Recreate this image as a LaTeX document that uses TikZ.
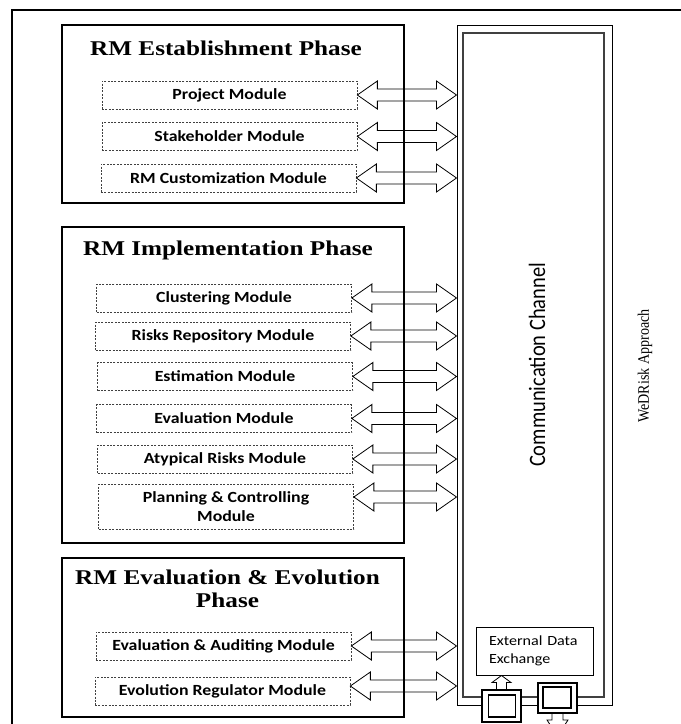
\documentclass[tikz,border=0pt]{standalone}
\usepackage{fontspec}
\setmainfont{Liberation Serif}
\newfontfamily\ttlfont[FakeStretch=1.2]{Liberation Serif}
\newfontfamily\modfont[FakeStretch=1.15]{Carlito}
\newfontfamily\calfont[FakeStretch=0.87]{Carlito}
\newfontfamily\wdfont[FakeStretch=0.88]{Liberation Serif}
\usetikzlibrary{calc}
\newcommand{\dblarr}[2]{%
  \draw[arr] let \p1=#1, \p2=#2 in
    (\x1,\y1) -- (\x1+20pt,\y1+14pt) -- (\x1+20pt,\y1+6pt) -- (\x2-20pt,\y1+6pt)
    -- (\x2-20pt,\y1+14pt) -- (\x2,\y1) -- (\x2-20pt,\y1-14pt) -- (\x2-20pt,\y1-6pt)
    -- (\x1+20pt,\y1-6pt) -- (\x1+20pt,\y1-14pt) -- cycle;}
\begin{document}
\begin{tikzpicture}[x=1pt,y=-1pt,
  phase/.style={draw, line width=2.8pt, inner sep=0pt},
  modbox/.style={draw=black!75, line width=0.7pt, dash pattern=on 2pt off 1.4pt,
    minimum width=255pt, minimum height=28pt, inner sep=0pt, align=center,
    font=\modfont\bfseries\fontsize{15.5}{19}\selectfont},
  ttl/.style={font=\ttlfont\bfseries\fontsize{21}{23}\selectfont, align=center, inner sep=0pt},
  arr/.style={draw, line width=0.8pt, line join=miter},
  smallbox/.style={draw, line width=1.1pt, fill=white, inner sep=0pt},
  ]
\useasboundingbox (0,0) rectangle (681,724);
\clip (0,0) rectangle (681,724);
\fill[white] (0,0) rectangle (681,724);

% outer frame
\draw[line width=2pt] (12,730) -- (12,10) -- (690,10);

% communication channel
\node (chan) [draw, line width=1pt, minimum width=155pt, minimum height=680pt, inner sep=0pt] at (534.5,365) {};
\node (chanin) [draw=black!75, line width=1.4pt, minimum width=141pt, minimum height=664pt, inner sep=0pt] at (533.5,365) {};
\node (cc) [rotate=90, inner sep=0pt, font=\calfont\fontsize{23.5}{26}\selectfont] at (537,365) {Communication Channel};
\node (wd) [rotate=90, inner sep=0pt, font=\wdfont\fontsize{16}{18}\selectfont] at (645,366) {WeDRisk Approach};

% external data exchange
\node (ede) [draw, line width=1pt, minimum width=117pt, minimum height=48pt, inner sep=0pt,
  text width=91pt, align=left, font=\modfont\fontsize{14}{18}\selectfont] at (534.5,651) {External Data\\Exchange};

% phase boxes
\node (p1) [phase, minimum width=342pt, minimum height=178pt] at (233,114) {};
\node (p2) [phase, minimum width=342pt, minimum height=316pt] at (233,385) {};
\node (p3) [phase, minimum width=342pt, minimum height=159pt] at (233,637.5) {};

\node (t1) [ttl] at (226,48) {RM Establishment Phase};
\node (t2) [ttl] at (228,250) {RM Implementation Phase};
\node (t3) [ttl] at (227.5,588.5) {RM Evaluation \& Evolution\\Phase};

% modules
\node (m1) [modbox] at (229.5,95) {Project Module};
\node (m2) [modbox] at (229.5,136.5) {Stakeholder Module};
\node (m3) [modbox] at (228.5,178) {RM Customization Module};

\node (c1) [modbox] at (224,298) {Clustering Module};
\node (c2) [modbox] at (223,336) {Risks Repository Module};
\node (c3) [modbox] at (225,376.5) {Estimation Module};
\node (c4) [modbox] at (224,418.5) {Evaluation Module};
\node (c5) [modbox] at (225,459) {Atypical Risks Module};
\node (c6) [modbox, minimum height=45pt] at (226,506.5) {Planning \& Controlling\\Module};

\node (e1) [modbox] at (223.5,646) {Evaluation \& Auditing Module};
\node (e2) [modbox] at (222.5,691) {Evolution Regulator Module};

% double arrows
\foreach \m in {m1,m2,m3,c1,c2,c3,c4,c5,e1}{
  \dblarr{(\m.east)}{(\m.east -| chan.west)}
}
\coordinate (c6a) at ($(c6.east)+(0,-9.5)$);
\dblarr{(c6a)}{(c6a -| chan.west)}
\coordinate (e2a) at ($(e2.east)+(0,-5)$);
\dblarr{(e2a)}{(e2a -| chan.west)}

% small boxes at the bottom
\node (sb1) [smallbox, minimum width=39pt, minimum height=32pt] at (501.5,706) {};
\node (sb1i) [draw, line width=1.1pt, minimum width=27pt, minimum height=22pt, inner sep=0pt] at (502,706) {};
\node (sb2) [smallbox, minimum width=39pt, minimum height=30pt] at (557.5,698) {};
\node (sb2i) [draw, line width=1.1pt, minimum width=28pt, minimum height=21pt, inner sep=0pt] at (557,697.5) {};

% up arrow into external data exchange
\draw[arr] let \p1=(sb1.north), \p2=(sb1.north |- ede.south) in
  (\x1-5pt,\y1) -- (\x1-5pt,\y2-7pt) -- (\x1-9.5pt,\y2-7pt) -- (\x1,\y2)
  -- (\x1+9.5pt,\y2-7pt) -- (\x1+5pt,\y2-7pt) -- (\x1+5pt,\y1);

% down arrow out of the picture
\coordinate (dn) at (557.5,736);
\draw[arr] let \p1=(sb2.south), \p2=(dn) in
  (\x1-5.5pt,\y1) -- (\x1-5.5pt,\y2+16pt) -- (\x1-10.5pt,\y2+16pt) -- (\x1,\y2)
  -- (\x1+10.5pt,\y2+16pt) -- (\x1+5.5pt,\y2+16pt) -- (\x1+5.5pt,\y1);
\end{tikzpicture}
\end{document}
